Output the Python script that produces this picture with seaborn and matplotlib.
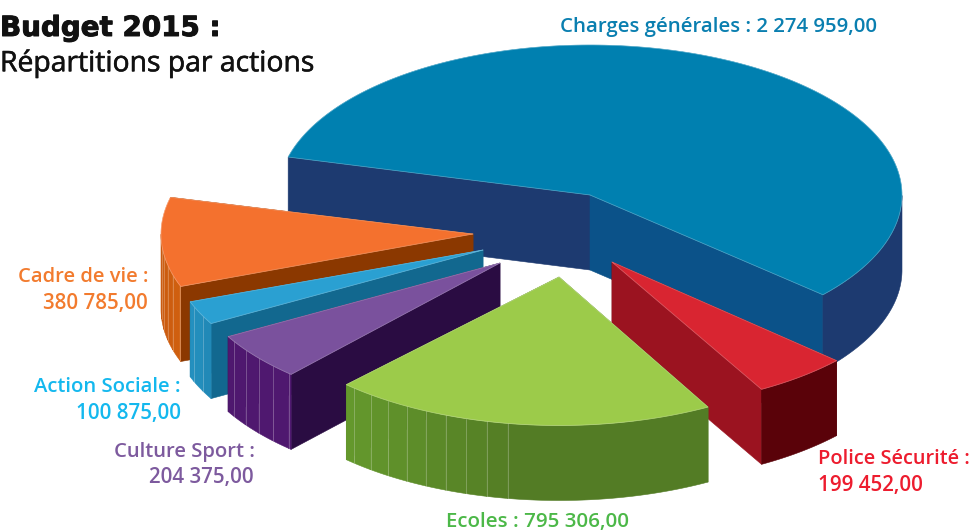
import numpy as np
import seaborn as sns
import matplotlib.pyplot as plt
import matplotlib.patheffects as pe

# budget values, in drawing order round the pie
actions = ["Charges générales", "Cadre de vie", "Action Sociale", "Culture Sport", "Ecoles", "Police Sécurité"]
montants = [2274959, 380785, 100875, 204375, 795306, 199452]
libelles = ["2 274 959,00", "380 785,00", "100 875,00", "204 375,00", "795 306,00", "199 452,00"]

# colours: top, start cut face, end cut face, wall near, wall far
top_colors = ["#0080b0", "#f4712e", "#2aa0d2", "#7a519d", "#9ccb4a", "#d92531"]
cut_start = ["#0b5289", "#8b3800", "#12688f", "#2a0c42", "#527a24", "#9b1320"]
cut_end = ["#1d3a70", "#8b3800", "#12688f", "#2a0c42", "#527a24", "#5a0209"]
wall_from = ["#1d3a70", "#c9590f", "#2490bf", "#4f186f", "#64982c", "#5a0209"]
wall_to = ["#1d3a70", "#d0600f", "#1f86b3", "#4f186f", "#527a24", "#5a0209"]
text_colors = ["#0a7fb0", "#f27b2e", "#14b8ee", "#7d5a9e", "#4cb848", "#ed1c2e"]

# layout of the exploded slices, in pixels
apex_x = [590, 473, 483, 500, 559, 612]
apex_y = [195, 234, 250, 263, 277, 262]
scale = [1.0, 1.0, 1.0, 1.0, 0.99, 0.975]
turn = [0.3, 0.8, 0.5, 0.5, -1.0, -0.4]
facet_stop = [None, 200, 209, 228, 263, None]
RX, RY, DEPTH = 312, 150, 75
START = -42

sns.set_theme(style="white")
plt.rcParams["font.family"] = ["Open Sans", "DejaVu Sans"]

fig = plt.figure(figsize=(9.73, 5.32), dpi=100)
ax = fig.add_axes([0, 0, 1, 1])
ax.set_xlim(0, 973)
ax.set_ylim(532, 0)
ax.axis("off")


def edge(cx, cy, s, deg):
    rad = np.radians(deg)
    return cx + s * RX * np.cos(rad), cy - s * RY * np.sin(rad)


def face(xs, ys, color, zorder):
    ax.fill(xs, ys, color=color, lw=0.4, zorder=zorder)


def draw_wall(cx, cy, s, t0, t1, color, z):
    th = np.linspace(t0, t1, 120)
    xs, ys = edge(cx, cy, s, th)
    face(np.r_[xs, xs[::-1]], np.r_[ys, ys[::-1] + DEPTH], color, z)


def draw_slice(i, a0, a1, z):
    cx, cy, s = apex_x[i], apex_y[i], scale[i]

    # the two cut faces, the lower one on screen goes last
    cuts = [(a0, cut_start[i]), (a1, cut_end[i])]
    cuts.sort(key=lambda c: edge(cx, cy, s, c[0])[1])
    for deg, col in cuts:
        px, py = edge(cx, cy, s, deg)
        face([cx, px, px, cx], [cy, py, py + DEPTH, cy + DEPTH], col, z)

    # outer wall, only the part turned to the viewer
    th = np.linspace(a0, a1, 400)
    th = th[np.sin(np.radians(th)) <= 0]
    if len(th) > 1:
        low, high = th[0], th[-1]
        if facet_stop[i] is None:
            draw_wall(cx, cy, s, low, high, wall_from[i], z)
        else:
            c0, c1 = np.array(sns.color_palette([wall_from[i], wall_to[i]]))
            seams = [t for t in np.arange(a0 + 2.0, facet_stop[i] + 0.1, 4.0) if low < t < high]
            breaks = [low] + seams + [high]
            for t0, t1 in zip(breaks[:-1], breaks[1:]):
                f = min(1, (t0 - low) / max(facet_stop[i] - low, 1))
                draw_wall(cx, cy, s, t0, t1, tuple(c0 + (c1 - c0) * f), z)
            # thin light seams of the wall facets
            for t in seams:
                x0, y0 = edge(cx, cy, s, t)
                ax.plot([x0, x0], [y0, y0 + DEPTH], color="white", alpha=0.25, lw=0.7, zorder=z)

    # top
    th = np.linspace(a0, a1, 200)
    xs, ys = edge(cx, cy, s, th)
    ax.fill(np.r_[cx, xs], np.r_[cy, ys], color=top_colors[i], lw=0.4, zorder=z)
    ax.plot(np.r_[cx, xs, cx], np.r_[cy, ys, cy], color="white", alpha=0.25, lw=0.6, zorder=z)


# slice angles come from the values
angles = np.array(montants) / sum(montants) * 360
ends = START + np.cumsum(angles)
starts = ends - angles

# painter's order, Ecoles last because it sits over its neighbours
for z, i in enumerate([0, 1, 2, 3, 5, 4]):
    draw_slice(i, starts[i] + turn[i], ends[i] + turn[i], z + 1)

# labels
kw = dict(fontweight=600, va="center", zorder=10)
ax.text(560, 27, f"{actions[0]} : {libelles[0]}", color=text_colors[0], ha="left", fontsize=14.7, **kw)
ax.text(148, 277, f"{actions[1]} :", color=text_colors[1], ha="right", fontsize=14.5, **kw)
ax.text(148, 303, libelles[1], color=text_colors[1], ha="right", fontsize=14.8, **kw)
ax.text(181, 387, f"{actions[2]} :", color=text_colors[2], ha="right", fontsize=14.6, **kw)
ax.text(181, 413, libelles[2], color=text_colors[2], ha="right", fontsize=14.8, **kw)
ax.text(255, 452, f"{actions[3]} :", color=text_colors[3], ha="right", fontsize=14.6, **kw)
ax.text(254, 478, libelles[3], color=text_colors[3], ha="right", fontsize=14.8, **kw)
ax.text(446, 522, f"{actions[4]} : {libelles[4]}", color=text_colors[4], ha="left", fontsize=14.75, **kw)
ax.text(818, 459, f"{actions[5]} :", color=text_colors[5], ha="left", fontsize=14.4, **kw)
ax.text(818, 485, libelles[5], color=text_colors[5], ha="left", fontsize=14.8, **kw)

ax.text(0, 28, "Budget 2015 :", fontsize=20, fontweight="heavy", family="DejaVu Sans", color="#111111",
        va="center", ha="left", zorder=10, path_effects=[pe.withStroke(linewidth=0.7, foreground="#111111")])
ax.text(0, 64, "Répartitions par actions", fontsize=20.4, color="#111111", va="center", ha="left", zorder=10,
        path_effects=[pe.withStroke(linewidth=0.4, foreground="#111111")])

sns.despine(ax=ax, left=True, bottom=True)
fig.savefig("out.png", dpi=100)
plt.close(fig)
